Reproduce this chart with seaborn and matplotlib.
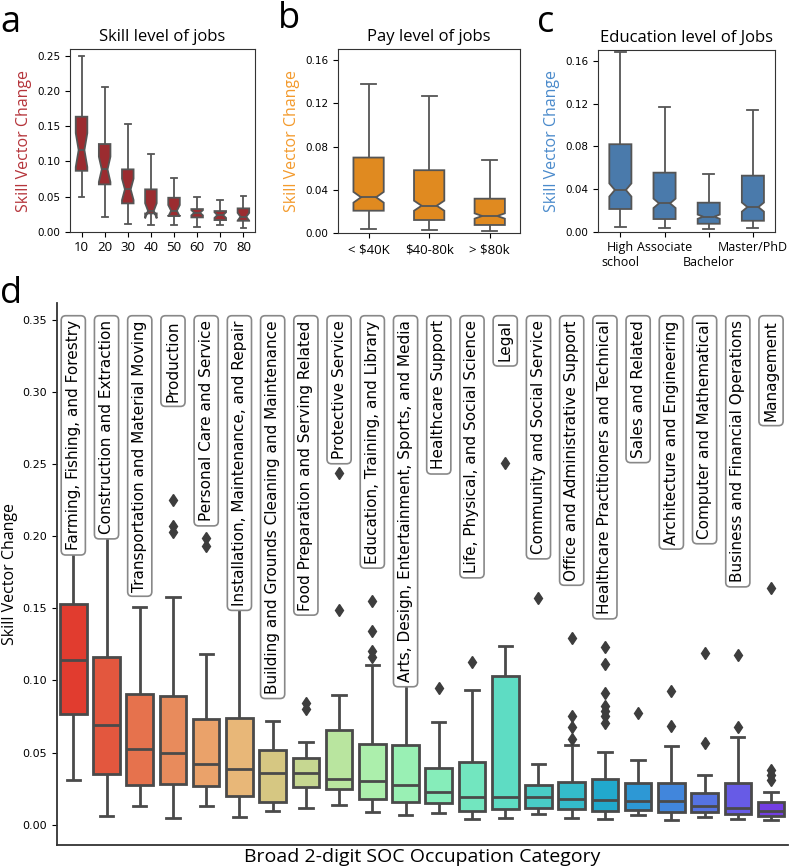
import numpy as np
import pandas as pd
import seaborn as sns
import matplotlib.pyplot as plt

# ---- panel a: skill level of jobs (box stats)
skill_levels = ["10", "20", "30", "40", "50", "60", "70", "80"]
skill_lo = [0.050, 0.021, 0.011, 0.0095, 0.0095, 0.0071, 0.0095, 0.0057]
skill_q1 = [0.0866, 0.0673, 0.0403, 0.026, 0.0223, 0.0204, 0.0166, 0.0156]
skill_med = [0.116, 0.0886, 0.0602, 0.0298, 0.0298, 0.027, 0.0237, 0.0213]
skill_q3 = [0.1634, 0.1246, 0.0886, 0.0602, 0.0483, 0.0322, 0.0294, 0.0332]
skill_hi = [0.250, 0.206, 0.153, 0.110, 0.0767, 0.0497, 0.045, 0.0507]
skill_n = [25, 25, 25, 25, 25, 25, 25, 25]

# ---- panel b: pay level of jobs
pay_levels = ["< $40K", "$40-80k", "> $80k"]
pay_lo = [0.004, 0.003, 0.0024]
pay_q1 = [0.0209, 0.0123, 0.0077]
pay_med = [0.0333, 0.0255, 0.016]
pay_q3 = [0.070, 0.0583, 0.032]
pay_hi = [0.138, 0.127, 0.0678]
pay_n = [241, 241, 241]

# ---- panel c: education level of jobs
edu_levels = ["High\nschool", "Associate", "Bachelor", "Master/PhD"]
edu_lo = [0.0044, 0.0038, 0.0028, 0.0032]
edu_q1 = [0.0213, 0.0119, 0.0075, 0.0103]
edu_med = [0.0391, 0.0266, 0.0141, 0.0231]
edu_q3 = [0.0819, 0.0553, 0.0272, 0.0525]
edu_hi = [0.1678, 0.117, 0.0544, 0.1143]
edu_n = [241, 241, 241, 241]

# ---- panel d: broad SOC occupation category
soc_names = [
    "Farming, Fishing, and Forestry",
    "Construction and Extraction",
    "Transportation and Material Moving",
    "Production",
    "Personal Care and Service",
    "Installation, Maintenance, and Repair",
    "Building and Grounds Cleaning and Maintenance",
    "Food Preparation and Serving Related",
    "Protective Service",
    "Education, Training, and Library",
    "Arts, Design, Entertainment, Sports, and Media",
    "Healthcare Support",
    "Life, Physical, and Social Science",
    "Legal",
    "Community and Social Service",
    "Office and Administrative Support",
    "Healthcare Practitioners and Technical",
    "Sales and Related",
    "Architecture and Engineering",
    "Computer and Mathematical",
    "Business and Financial Operations",
    "Management",
]
soc_lo = [0.0307, 0.0059, 0.0131, 0.0045, 0.0126, 0.005, 0.0094, 0.0113, 0.0138, 0.0085, 0.0068,
          0.0082, 0.0036, 0.0045, 0.0075, 0.0045, 0.0036, 0.0064, 0.0033, 0.0054, 0.0036, 0.0029]
soc_q1 = [0.0767, 0.0349, 0.0274, 0.0279, 0.0267, 0.0198, 0.0154, 0.0263, 0.0249, 0.0177, 0.0154,
          0.0147, 0.0096, 0.0108, 0.0113, 0.0108, 0.0096, 0.0101, 0.0085, 0.0089, 0.0073, 0.0059]
soc_med = [0.1142, 0.0693, 0.0524, 0.0497, 0.0422, 0.0388, 0.036, 0.0355, 0.0316, 0.030, 0.0276,
           0.0228, 0.0193, 0.0189, 0.0189, 0.0175, 0.017, 0.0165, 0.0161, 0.0128, 0.0113, 0.0094]
soc_q3 = [0.1529, 0.1163, 0.0904, 0.0892, 0.0733, 0.0738, 0.0517, 0.0464, 0.0656, 0.0557, 0.055,
          0.039, 0.0434, 0.1029, 0.0274, 0.0295, 0.0318, 0.029, 0.0286, 0.0221, 0.029, 0.0156]
soc_hi = [0.19, 0.20, 0.1513, 0.1582, 0.1182, 0.15, 0.0719, 0.0575, 0.0897, 0.1105, 0.10,
          0.071, 0.0932, 0.124, 0.0422, 0.0554, 0.0501, 0.0448, 0.0545, 0.0342, 0.0608, 0.0228]
soc_outliers = [
    [], [], [], [0.2253, 0.2075, 0.2029], [0.1987, 0.1934], [], [], [0.0842, 0.080],
    [0.244, 0.149], [0.1554, 0.1346, 0.1205, 0.1165], [], [0.095], [0.113], [0.2513], [0.157],
    [0.1293, 0.0756, 0.0679, 0.0594],
    [0.1231, 0.1115, 0.0911, 0.082, 0.0785, 0.0755, 0.0705],
    [0.0772], [0.0927, 0.0684], [0.1189, 0.0568], [0.1175, 0.0675],
    [0.1645, 0.038, 0.0345, 0.031],
]


def box_sample(lo, q1, med, q3, hi, outliers=(), n=5):
    # n = 4m + 1 points so that the 25/50/75 percentiles land on q1/med/q3
    m = max((n - 1) // 4, len(outliers) + 1)
    top = [hi] * (m - len(outliers)) + list(outliers)
    return [lo] + [q1] * m + [med] * m + [q3] * m + top


def make_frame(names, lo, q1, med, q3, hi, ns=None, outs=None):
    rows = []
    for i, name in enumerate(names):
        vals = box_sample(lo[i], q1[i], med[i], q3[i], hi[i],
                          outs[i] if outs else (), ns[i] if ns else 5)
        rows += [(name, v) for v in vals]
    return pd.DataFrame(rows, columns=["group", "change"])


df_a = make_frame(skill_levels, skill_lo, skill_q1, skill_med, skill_q3, skill_hi, skill_n)
df_b = make_frame(pay_levels, pay_lo, pay_q1, pay_med, pay_q3, pay_hi, pay_n)
df_c = make_frame(edu_levels, edu_lo, edu_q1, edu_med, edu_q3, edu_hi, edu_n)
df_d = make_frame(soc_names, soc_lo, soc_q1, soc_med, soc_q3, soc_hi, None, soc_outliers)

plt.rcParams['font.family'] = ['DejaVu Sans']
label_font = "Open Sans"
line_gray = "#555555"

fig = plt.figure(figsize=(7.96, 8.68), dpi=100)
ax_a = fig.add_axes([0.0879, 0.733, 0.2324, 0.2101])
ax_b = fig.add_axes([0.425, 0.7312, 0.2283, 0.212])
ax_c = fig.add_axes([0.7516, 0.733, 0.222, 0.2093])
ax_d = fig.add_axes([0.0712, 0.0265, 0.9183, 0.6244])

small = [
    (ax_a, df_a, "#9b2c30", "#b5343a", "Skill level of jobs", (0, 0.259), np.arange(0, 0.26, 0.05), 9.5),
    (ax_b, df_b, "#e08a20", "#f39a2c", "Pay level of jobs", (0, 0.17), np.arange(0, 0.17, 0.04), 9.5),
    (ax_c, df_c, "#4a7aab", "#4a8acb", "Education level of Jobs", (0, 0.17), np.arange(0, 0.17, 0.04), 9),
]
for ax, df, fill, lab_col, title, ylim, yt, xt_size in small:
    sns.boxplot(data=df, x="group", y="change", ax=ax, color=fill, saturation=1,
                notch=True, width=0.5, whis=(0, 100), showfliers=False,
                linecolor=line_gray, linewidth=1.3)
    ax.set_ylim(*ylim)
    ax.set_yticks(yt)
    ax.set_yticklabels(["{:.2f}".format(v) for v in yt], fontsize=7.5)
    ax.set_xlabel("")
    ax.set_ylabel("Skill Vector Change", color=lab_col, fontsize=11.5,
                  family=label_font, labelpad=4)
    ax.set_title(title, fontsize=12, family=label_font, pad=6)
    for t in ax.get_xticklabels():
        t.set_fontfamily(label_font)
        t.set_fontsize(xt_size)
    for s in ax.spines.values():
        s.set_color("#333333")

# the "Bachelor" label sits one line lower than its neighbours
ax_c.xaxis.get_major_ticks()[2].set_pad(14)

# ---- panel d
pal = sns.color_palette("rainbow_r", len(soc_names))
sns.boxplot(data=df_d, x="group", y="change", hue="group", palette=pal, legend=False,
            ax=ax_d, width=0.8, linecolor="#4a4a4a", linewidth=2,
            flierprops={"marker": "d", "markerfacecolor": "#3d3d3d",
                        "markeredgecolor": "#3d3d3d"}, fliersize=6)
ax_d.set_ylim(-0.0142, 0.362)
ax_d.set_xticks([])
yt_d = np.arange(0, 0.36, 0.05)
ax_d.set_yticks(yt_d)
ax_d.set_yticklabels(["{:.2f}".format(v) for v in yt_d], fontsize=8)
ax_d.set_ylabel("Skill Vector Change", fontsize=11.5, family=label_font, labelpad=3)
ax_d.set_xlabel("Broad 2-digit SOC Occupation Category", fontsize=14,
                family=label_font, labelpad=2)
sns.despine(ax=ax_d)
for s in ax_d.spines.values():
    s.set_color("#333333")
    s.set_linewidth(1.3)

for i, name in enumerate(soc_names):
    ax_d.text(i, 0.350, name, rotation=90, ha="center", va="top", fontsize=11,
              bbox=dict(boxstyle="round,pad=0.3", fc="white", ec="#888888", lw=1.2),
              zorder=5)

for letter, x, y in [("a", 0.0, 0.963), ("b", 0.349, 0.968), ("c", 0.674, 0.963), ("d", 0.0, 0.651)]:
    fig.text(x, y, letter, fontsize=26, family=label_font, va="baseline")

fig.savefig("out.png", dpi=100)
